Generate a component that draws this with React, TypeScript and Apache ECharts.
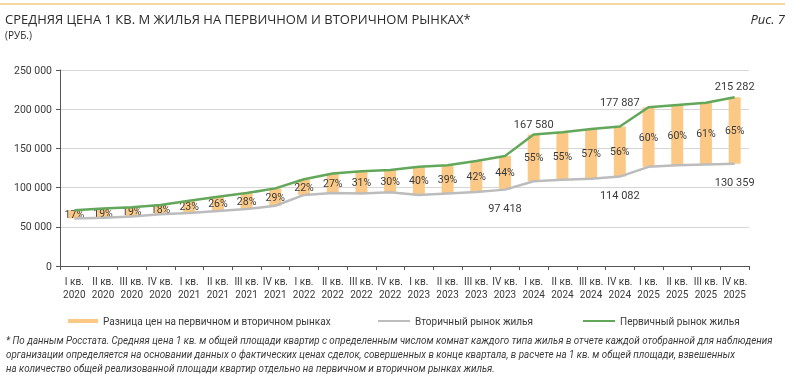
import React, { useEffect, useRef } from "react";
import * as echarts from "echarts";

const quarterNames = ["I кв.", "II кв.", "III кв.", "IV кв."];
const years = ["2020", "2021", "2022", "2023", "2024", "2025"];
const categories: string[] = [];
years.forEach((y) => quarterNames.forEach((q) => categories.push(q + "\n" + y)));

const primaryMarket = [
  71000, 73200, 75000, 77800, 83300, 88400, 93000, 99000, 110600, 118000, 121000, 122400,
  126700, 128400, 134000, 140300, 167580, 170500, 174700, 177887, 202400, 205400, 208300, 215282,
];
const secondaryMarket = [
  60700, 61500, 63000, 66000, 67700, 70200, 72700, 76800, 90700, 93000, 92500, 94000,
  90500, 92400, 94300, 97418, 108100, 110000, 111300, 114082, 126500, 128400, 129400, 130359,
];
const diffPct = [17, 19, 19, 18, 23, 26, 28, 29, 22, 27, 31, 30, 40, 39, 42, 44, 55, 55, 57, 56, 60, 60, 61, 65];

const primaryLabelIdx = [16, 19, 23];
const secondaryLabelIdx = [15, 19, 23];

const yTicks = { min: 0, max: 250000, interval: 50000 };

const diffName = "Разница цен на первичном и вторичном рынках";
const secName = "Вторичный рынок жилья";
const primName = "Первичный рынок жилья";

const titleText = "СРЕДНЯЯ ЦЕНА 1 КВ. М ЖИЛЬЯ НА ПЕРВИЧНОМ И ВТОРИЧНОМ РЫНКАХ*";
const unitText = "(РУБ.)";
const figText = "Рис. 7";
const footnote = [
  "* По данным Росстата. Средняя цена 1 кв. м общей площади квартир с определенным числом комнат каждого типа жилья в отчете каждой отобранной для наблюдения",
  "организации определяется на основании данных о фактических ценах сделок, совершенных в конце квартала, в расчете на 1 кв. м общей площади, взвешенных",
  "на количество общей реализованной площади квартир отдельно на первичном и вторичном рынках жилья.",
];

const FONT = "Roboto, sans-serif";
const SANS = "'Open Sans', Roboto, sans-serif";
const fmt = (v: number) => String(v).replace(/\B(?=(\d{3})+(?!\d))/g, " ");

const GREEN = "#62a75a";
const GRAY = "#bcbcbc";
const ORANGE = "#fbc985";
const TEXT = "#3a3a3a";

export default function App() {
  const ref = useRef<HTMLDivElement>(null);
  useEffect(() => {
    if (!ref.current) return;
    const chart = echarts.init(ref.current, undefined, { renderer: "svg" });
    const diff = primaryMarket.map((p, i) => p - secondaryMarket[i]);

    let footScale = 1;
    try {
      const ctx = document.createElement("canvas").getContext("2d");
      if (ctx) {
        ctx.font = "italic 10px Roboto";
        const w = ctx.measureText(footnote[0]).width;
        if (w > 0) footScale = 767 / w;
      }
    } catch (e) {}

    const lineLabel = (idx: number[], pos: string, offsets: Record<number, number[]>) => (v: number, i: number) =>
      idx.includes(i)
        ? {
            value: v,
            label: {
              show: true,
              position: pos,
              offset: offsets[i] || [0, 0],
              formatter: fmt(v),
              color: TEXT,
              fontSize: 11,
              fontFamily: FONT,
            },
          }
        : v;
    chart.setOption({
      animation: false,
      grid: { left: 60, right: 51, top: 70, bottom: 115, containLabel: false },
      xAxis: {
        type: "category",
        data: categories,
        axisLine: { lineStyle: { color: "#555", width: 1 } },
        axisTick: { show: true, length: 4, lineStyle: { color: "#555" } },
        axisLabel: { color: TEXT, fontSize: 10, fontFamily: FONT, lineHeight: 13, margin: 9, interval: 0 },
      },
      yAxis: {
        type: "value",
        min: yTicks.min,
        max: yTicks.max,
        interval: yTicks.interval,
        axisLine: { show: true, lineStyle: { color: "#555", width: 1 } },
        axisTick: { show: true, length: 4, lineStyle: { color: "#555" } },
        splitLine: { lineStyle: { color: "#d6d6d6", width: 1 } },
        axisLabel: { color: TEXT, fontSize: 10.5, fontFamily: FONT, formatter: (v: number) => fmt(v), margin: 8 },
      },
      legend: [
        {
          data: [diffName],
          left: 68,
          top: 316,
          padding: 0,
          icon: "rect",
          itemWidth: 30,
          itemHeight: 4,
          textStyle: { color: TEXT, fontSize: 10, fontFamily: FONT },
        },
        {
          data: [secName],
          left: 378,
          top: 316,
          padding: 0,
          icon: "rect",
          itemWidth: 32,
          itemHeight: 2,
          textStyle: { color: TEXT, fontSize: 10, fontFamily: FONT },
        },
        {
          data: [primName],
          left: 583,
          top: 316,
          padding: 0,
          icon: "rect",
          itemWidth: 32,
          itemHeight: 2,
          textStyle: { color: TEXT, fontSize: 10, fontFamily: FONT },
        },
      ],
      graphic: [
        { type: "line", shape: { x1: 0, y1: 4, x2: 785, y2: 4 }, style: { stroke: "#f3c982", lineWidth: 1.5 } },
        {
          type: "text",
          left: 5,
          top: 12,
          style: { text: titleText, fill: "#2b2b2b", fontSize: 13, fontFamily: SANS },
        },
        {
          type: "text",
          left: 5,
          top: 30,
          style: { text: unitText, fill: "#2b2b2b", fontSize: 10, fontFamily: SANS },
        },
        {
          type: "text",
          right: 15,
          top: 12,
          style: { text: figText, fill: "#2b2b2b", fontSize: 13, fontStyle: "italic", fontFamily: SANS },
        },
        ...footnote.map((t, i) => ({
          type: "text",
          x: 6,
          y: 335 + i * 14,
          scaleX: footScale,
          style: { text: t, fill: TEXT, fontSize: 10, fontStyle: "italic", fontFamily: "Roboto" },
        })),
      ],
      series: [
        {
          name: "base",
          type: "bar",
          stack: "gap",
          data: secondaryMarket,
          barWidth: 12,
          itemStyle: { color: "transparent" },
          silent: true,
        },
        {
          name: diffName,
          type: "bar",
          stack: "gap",
          data: diff,
          barWidth: 12,
          itemStyle: { color: ORANGE },
          label: {
            show: true,
            position: "inside",
            formatter: (p: any) => diffPct[p.dataIndex] + "%",
            color: TEXT,
            fontSize: 10.5,
            fontFamily: FONT,
          },
        },
        {
          name: secName,
          type: "line",
          data: secondaryMarket.map(lineLabel(secondaryLabelIdx, "bottom", { 15: [0, 8], 19: [0, 8], 23: [0, 8] })),
          symbol: "circle",
          symbolSize: 0,
          showSymbol: true,
          lineStyle: { color: GRAY, width: 2.5 },
          itemStyle: { color: GRAY },
          z: 3,
        },
        {
          name: primName,
          type: "line",
          data: primaryMarket.map(lineLabel(primaryLabelIdx, "top", { 16: [0, 0], 19: [0, -14], 23: [0, 0] })),
          symbol: "circle",
          symbolSize: 0,
          showSymbol: true,
          lineStyle: { color: GREEN, width: 2.5 },
          itemStyle: { color: GREEN },
          z: 3,
        },
      ],
    });
    return () => chart.dispose();
  }, []);
  return <div ref={ref} style={{ position: "fixed", left: 0, top: 0, width: 800, height: 381 }} />;
}
